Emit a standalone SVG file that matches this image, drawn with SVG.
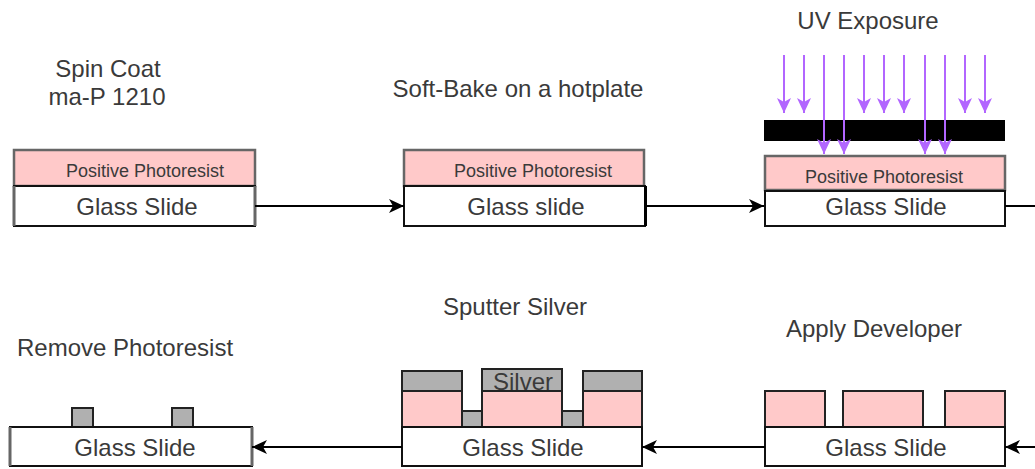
<svg xmlns="http://www.w3.org/2000/svg" width="1035" height="469" viewBox="0 0 1035 469">
<style>
text{font-family:"Liberation Sans",Arial,sans-serif;fill:#3a3a3a;text-anchor:middle}
.g{font-size:24px}
.p{font-size:18px}
.l{font-size:24px}
.w{fill:#fff;stroke:#111;stroke-width:2}
.r{fill:#ffc9c9;stroke:#222;stroke-width:2}
.rg{fill:#ffc9c9;stroke:#666;stroke-width:2.5}
.e{fill:none;stroke:#666;stroke-width:3}
.s{fill:#b0b0b0;stroke:#222;stroke-width:2}
.c{fill:none;stroke:#000;stroke-width:2;marker-end:url(#a)}
.c0{fill:none;stroke:#000;stroke-width:2}
.u{fill:none;stroke:#b266ff;stroke-width:2;marker-end:url(#u)}
</style>
<defs>
<marker id="a" markerUnits="userSpaceOnUse" markerWidth="17" markerHeight="17" refX="15" refY="8" orient="auto"><path d="M0 1L15 8L0 15L4 8Z" fill="#000"/></marker>
<marker id="u" markerUnits="userSpaceOnUse" markerWidth="17" markerHeight="17" refX="15" refY="8" orient="auto"><path d="M0 1L15 8L0 15L4 8Z" fill="#b266ff"/></marker>
</defs>
<g id="step1"><rect class="rg" x="14" y="150" width="241" height="36"/><rect class="w" x="14" y="186" width="241" height="40"/><path class="e" d="M14 186V226M255 186V226"/>
<text class="p" x="145" y="177">Positive Photoresist</text><text class="g" x="137" y="215">Glass Slide</text>
<text class="l" x="108" y="77">Spin Coat</text><text class="l" x="107" y="105">ma-P 1210</text></g>
<g id="step2"><rect class="rg" x="404" y="150" width="240" height="36"/><rect class="w" x="404" y="186" width="241" height="40"/><path d="M645.500 186V226" stroke="#000" stroke-width="3"/>
<text class="p" x="533" y="177">Positive Photoresist</text><text class="g" x="526" y="215">Glass slide</text>
<text class="l" x="518" y="97">Soft-Bake on a hotplate</text></g>
<g id="step3"><rect x="764" y="120" width="241" height="21" fill="#000"/>
<rect class="rg" x="765" y="156" width="240" height="34"/><rect class="w" x="765" y="191" width="240" height="35"/>
<text class="p" x="884" y="183">Positive Photoresist</text><text class="g" x="886" y="215">Glass Slide</text>
<text class="l" x="868" y="29">UV Exposure</text></g>
<g id="step4"><rect class="r" x="765" y="391" width="60" height="36"/><rect class="r" x="843" y="391" width="80" height="36"/><rect class="r" x="945" y="391" width="60" height="36"/>
<rect class="w" x="765" y="427" width="240" height="39"/><text class="g" x="886" y="456">Glass Slide</text>
<text class="l" x="874" y="337">Apply Developer</text></g>
<g id="step5"><rect class="s" x="402" y="371" width="60" height="20"/><rect class="s" x="482" y="369" width="80" height="22"/><rect class="s" x="583" y="371" width="59" height="20"/>
<text class="g" x="523" y="390">Silver</text>
<rect class="r" x="402" y="391" width="60" height="36"/><rect class="r" x="482" y="391" width="80" height="36"/><rect class="r" x="583" y="391" width="59" height="36"/>
<rect class="s" x="462" y="411" width="20" height="16"/><rect class="s" x="562" y="411" width="21" height="16"/>
<rect class="w" x="402" y="427" width="240" height="39"/><text class="g" x="523" y="456">Glass Slide</text>
<text class="l" x="515" y="315">Sputter Silver</text></g>
<g id="step6"><rect class="s" x="72" y="408" width="21" height="19"/><rect class="s" x="172" y="408" width="21" height="19"/>
<rect class="w" x="10" y="427" width="242" height="39"/><path class="e" d="M10 427V466M252 427V466"/><text class="g" x="135" y="456">Glass Slide</text>
<text class="l" x="125" y="356">Remove Photoresist</text></g>
<g id="connectors">
<path class="c" d="M255 206H404"/><path class="c" d="M645 206H764"/><path class="c0" d="M1005 206H1035"/>
<path class="c" d="M1035 447H1005"/><path class="c" d="M765 447H642"/><path class="c" d="M402 447H252"/>
<path class="u" d="M784 55V113"/><path class="u" d="M804 55V113"/><path class="u" d="M824 55V154"/><path class="u" d="M844 55V154"/><path class="u" d="M864 55V113"/><path class="u" d="M884 55V113"/><path class="u" d="M904 55V113"/><path class="u" d="M925 55V154"/><path class="u" d="M945 55V154"/><path class="u" d="M965 55V113"/><path class="u" d="M985 55V113"/>
</g>
</svg>
